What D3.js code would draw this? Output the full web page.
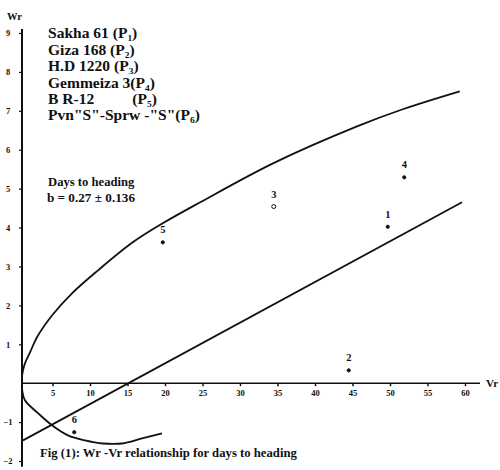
<!DOCTYPE html>
<html>
<head>
<meta charset="utf-8">
<script src="https://cdn.jsdelivr.net/npm/d3@7"></script>
<style>
  body { margin: 0; background: #fff; }
  svg { display: block; background: #fff; }
  text { font-family: "Liberation Serif", "DejaVu Serif", serif; fill: #111; }
</style>
</head>
<body>
<svg></svg>
<script>
/* parents shown in the legend */
let parents = ['Sakha 61 ', 'Giza 168  ', 'H.D 1220 ', 'Gemmeiza 3', 'B R-12', 'Pvn"S"-Sprw -"S"'];

/* array points (Vr, Wr) for each parent */
let pointIds = ['1', '2', '3', '4', '5', '6'];
let vrValues = [49.7, 44.5, 34.5, 51.9, 19.7, 7.9];
let wrValues = [4.02, 0.33, 4.54, 5.29, 3.62, -1.26];

/* limiting parabola */
let upperVr = [0.93, 1.07, 1.33, 2.0, 2.93, 4.93, 7.6, 11.07, 15.7, 19.7, 24.7, 34.4, 45.6, 51.7, 59.3];
let upperWr = [0.17, 0.33, 0.51, 0.79, 1.18, 1.74, 2.31, 2.9, 3.62, 4.11, 4.65, 5.65, 6.6, 7.04, 7.5];
let lowerVr = [0.93, 1.33, 3.07, 4.93, 7.07, 9.33, 11.73, 14.27, 16.93, 19.6];
let lowerWr = [-0.13, -0.44, -0.77, -1.08, -1.34, -1.47, -1.55, -1.55, -1.42, -1.29];

/* regression line ends */
let regVr = [1.07, 59.6];
let regWr = [-1.47, 4.65];

let xTicks = [5, 10, 15, 20, 25, 30, 35, 40, 45, 50, 55, 60];
let yTicks = [-2, -1, 1, 2, 3, 4, 5, 6, 7, 8, 9];

let width = 500;
let height = 470;

let svg = d3.select('svg').attr('width', width).attr('height', height);

let xScale = d3.scaleLinear().domain([0, 60]).range([15, 465]);
let yScale = d3.scaleLinear().domain([-2, 9]).range([461, 33]);
let axisX = 22;

/* axes */
let xAxis = d3.axisBottom(xScale).tickValues(xTicks).tickSize(3).tickSizeOuter(0);
let gx = svg.append('g')
    .attr('transform', 'translate(0,' + yScale(0) + ')')
    .call(xAxis);
gx.select('.domain').remove();
gx.selectAll('line').attr('stroke', '#111').attr('stroke-width', 1.5);
gx.selectAll('text').attr('dy', '0.75em').attr('y', 6)
    .style('font-size', '8.5px').style('font-weight', 'bold');

let yAxis = d3.axisLeft(yScale).tickValues(yTicks).tickSize(3).tickSizeOuter(0);
let gy = svg.append('g')
    .attr('transform', 'translate(' + axisX + ',0)')
    .call(yAxis);
gy.select('.domain').remove();
gy.selectAll('line').attr('stroke', '#111').attr('stroke-width', 1.2);
gy.selectAll('text').attr('x', -14).attr('text-anchor', 'middle')
    .style('font-size', '8.5px').style('font-weight', 'bold');

svg.append('line')
    .attr('x1', axisX).attr('x2', axisX)
    .attr('y1', yScale(9.1)).attr('y2', yScale(-2.15))
    .attr('stroke', '#111').attr('stroke-width', 2);
svg.append('line')
    .attr('x1', axisX).attr('x2', xScale(62))
    .attr('y1', yScale(0)).attr('y2', yScale(0))
    .attr('stroke', '#111').attr('stroke-width', 1.6);

svg.append('text').attr('x', 7).attr('y', 20).text('Wr')
    .style('font-size', '10.5px').style('font-weight', 'bold');
svg.append('text').attr('x', 486).attr('y', yScale(0) + 4).text('Vr')
    .style('font-size', '11px').style('font-weight', 'bold');

/* curves */
let line = d3.line()
    .x((d) => xScale(d[0]))
    .y((d) => yScale(d[1]))
    .curve(d3.curveCatmullRom);

let upper = upperVr.map((v, i) => [v, upperWr[i]]);
let lower = lowerVr.map((v, i) => [v, lowerWr[i]]);
let reg = regVr.map((v, i) => [v, regWr[i]]);

[upper, lower, reg].forEach((pts) => {
    svg.append('path')
        .attr('d', line(pts))
        .attr('fill', 'none')
        .attr('stroke', '#111')
        .attr('stroke-width', 1.8);
});

/* array points */
let pts = pointIds.map((id, i) => ({id: id, vr: vrValues[i], wr: wrValues[i]}));
svg.selectAll('circle.pt')
    .data(pts)
    .enter()
    .append('circle')
    .attr('class', 'pt')
    .attr('cx', (d) => xScale(d.vr))
    .attr('cy', (d) => yScale(d.wr))
    .attr('r', (d) => d.id === '3' ? 2 : 1.6)
    .attr('fill', (d) => d.id === '3' ? 'none' : '#111')
    .attr('stroke', '#111')
    .attr('stroke-width', 1);
svg.selectAll('text.pt')
    .data(pts)
    .enter()
    .append('text')
    .attr('class', 'pt')
    .attr('x', (d) => xScale(d.vr))
    .attr('y', (d) => yScale(d.wr) - 9)
    .attr('text-anchor', 'middle')
    .style('font-size', '10.5px')
    .style('font-weight', 'bold')
    .text((d) => d.id);

/* legend, stretched a little wider like the printed type */
let legend = svg.append('g').attr('transform', 'translate(48,0) scale(1.11,1)');
parents.forEach((name, i) => {
    let t = legend.append('text')
        .attr('x', 0)
        .attr('y', 38.5 + i * 16.4)
        .style('font-size', '14px')
        .style('font-weight', 'bold');
    t.append('tspan').text(name);
    let p = t.append('tspan');
    if (i === 4) p.attr('x', 76);
    p.text('(P');
    t.append('tspan').attr('dy', 3).style('font-size', '8.5px').text(i + 1);
    t.append('tspan').attr('dy', -3).text(')');
});

let note = svg.append('g').attr('transform', 'translate(48,0) scale(1.1,1)');
note.append('text').attr('x', 0).attr('y', 186).text('Days to heading')
    .style('font-size', '11.5px').style('font-weight', 'bold');
note.append('text').attr('x', -1).attr('y', 202).text('b = 0.27 \u00b1 0.136')
    .style('font-size', '12px').style('font-weight', 'bold');

svg.append('g').attr('transform', 'translate(40,0) scale(1.06,1)')
    .append('text').attr('x', 0).attr('y', 457)
    .text('Fig (1): Wr -Vr relationship for days to heading')
    .style('font-size', '12px').style('font-weight', 'bold');
</script>
</body>
</html>
